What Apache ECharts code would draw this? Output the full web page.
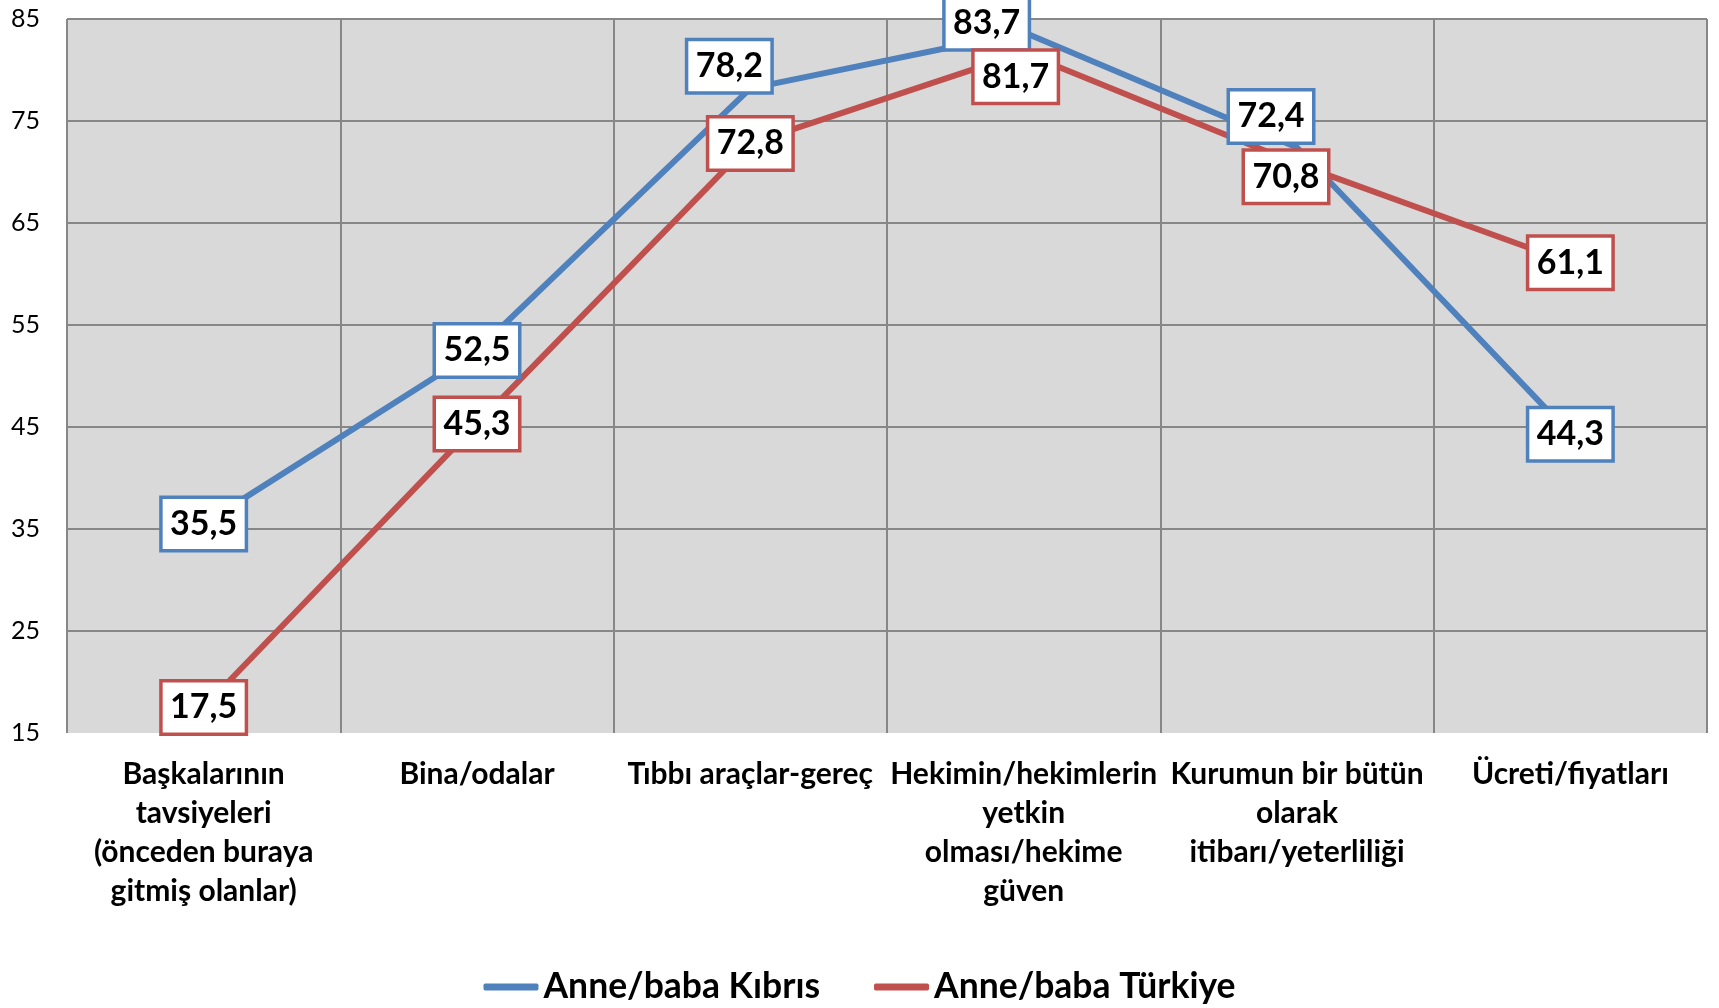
<!DOCTYPE html>
<html>
<head>
<meta charset="utf-8">
<script src="https://cdn.jsdelivr.net/npm/echarts@6/dist/echarts.min.js"></script>
<style>
html,body{margin:0;padding:0;background:#fff;}
#chart{width:1719px;height:1008px;}
</style>
</head>
<body>
<div id="chart"></div>
<script>
const categories = [
  'Başkalarının\ntavsiyeleri\n(önceden buraya\ngitmiş olanlar)',
  'Bina/odalar',
  'Tıbbı araçlar-gereç',
  'Hekimin/hekimlerin\nyetkin\nolması/hekime\ngüven',
  'Kurumun bir bütün\nolarak\nitibarı/yeterliliği',
  'Ücreti/fiyatları'
];
const seriesNames = ['Anne/baba Kıbrıs', 'Anne/baba Türkiye'];
const kibris = [35.5, 52.5, 78.2, 83.7, 72.4, 44.3];
const turkiye = [17.5, 45.3, 72.8, 81.7, 70.8, 61.1];
const yTicks = [15, 25, 35, 45, 55, 65, 75, 85];

const FONT = 'Lato, "Open Sans", sans-serif';
const colors = ['#4F81BD', '#C0504D'];
// label nudges (pixels) to mimic manually placed labels
const nudgeK = [null, null, [-21, -22], [-37, -9], [-26, -31], null];
const nudgeT = [null, null, null, [-8, 24], [-11, 13], null];

function buildData(vals, nudges) {
  return vals.map((v, i) => nudges[i] ? { value: v, label: { offset: nudges[i] } } : { value: v });
}

function mkSeries(name, vals, nudges, color) {
  return {
    name: name,
    type: 'line',
    data: buildData(vals, nudges),
    symbol: 'circle',
    symbolSize: 1,
    showSymbol: true,
    itemStyle: { color: color },
    lineStyle: { color: color, width: 6, cap: 'round' },
    label: {
      show: true,
      position: 'inside',
      formatter: p => String(p.value).replace('.', ','),
      color: '#000',
      fontFamily: FONT,
      fontWeight: 'bold',
      fontSize: 34,
      backgroundColor: '#fff',
      borderColor: color,
      borderWidth: 3.5,
      width: 78,
      height: 48,
      align: 'center',
      verticalAlign: 'middle',
      lineHeight: 48,
      padding: [1, 2, 1, 2]
    },
    emphasis: { disabled: true }
  };
}

const chart = echarts.init(document.getElementById('chart'), null, { renderer: 'canvas' });
chart.setOption({
  animation: false,
  backgroundColor: '#fff',
  color: colors,
  grid: {
    left: 67, right: 12, top: 19, bottom: 275,
    show: true, backgroundColor: '#D9D9D9', borderWidth: 0
  },
  xAxis: {
    type: 'category',
    data: categories,
    boundaryGap: true,
    axisLine: { show: false },
    axisTick: { show: false },
    splitLine: { show: true, lineStyle: { color: '#878787', width: 2 } },
    axisLabel: {
      interval: 0,
      margin: 22,
      color: '#000',
      fontFamily: FONT,
      fontWeight: 'bold',
      fontSize: 30,
      lineHeight: 39,
      align: 'center',
      verticalAlign: 'top'
    }
  },
  yAxis: {
    type: 'value',
    min: yTicks[0],
    max: yTicks[yTicks.length - 1],
    interval: yTicks[1] - yTicks[0],
    axisLine: { show: false },
    axisTick: { show: false },
    splitLine: { show: true, showMinLine: false, lineStyle: { color: '#878787', width: 2 } },
    axisLabel: {
      margin: 27,
      color: '#000',
      fontFamily: FONT,
      fontSize: 25
    }
  },
  legend: {
    data: seriesNames,
    bottom: -2,
    left: 'center',
    icon: 'roundRect',
    itemWidth: 55,
    itemHeight: 7,
    itemGap: 54,
    textStyle: {
      color: '#000',
      fontFamily: FONT,
      fontWeight: 'bold',
      fontSize: 35.5
    }
  },
  series: [
    mkSeries(seriesNames[0], kibris, nudgeK, colors[0]),
    mkSeries(seriesNames[1], turkiye, nudgeT, colors[1])
  ]
});
</script>
</body>
</html>
